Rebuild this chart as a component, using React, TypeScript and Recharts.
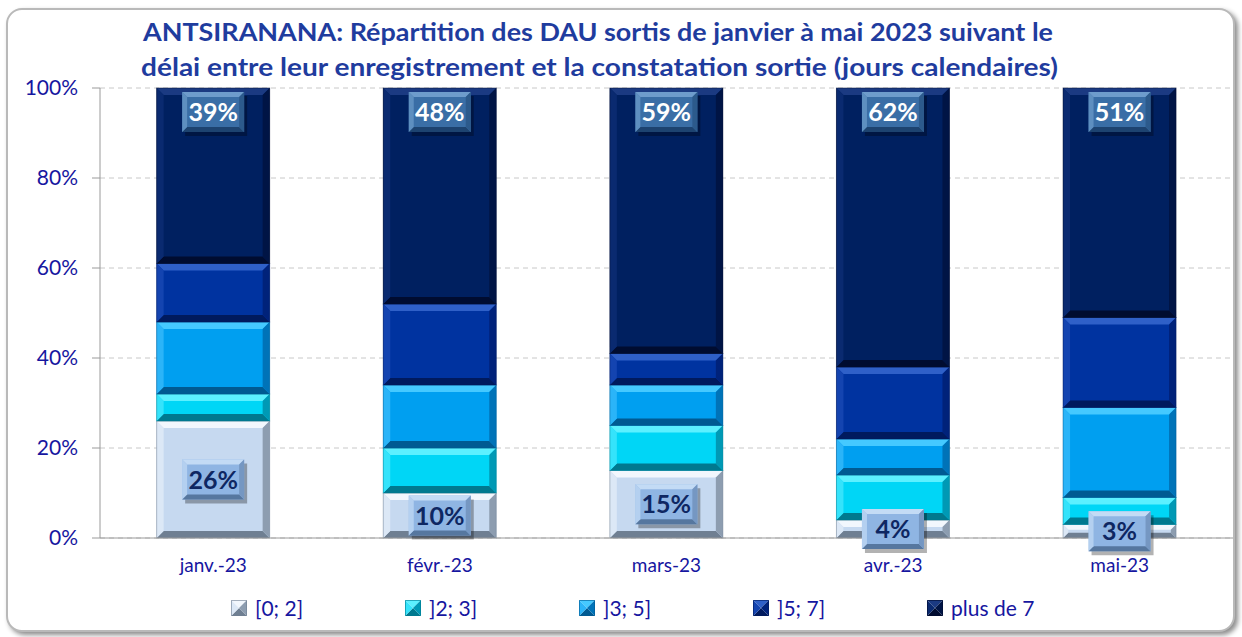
import { Bar, BarChart, CartesianGrid, LabelList, Legend, XAxis, YAxis } from "recharts";

const MONTHS = ["janv.-23", "févr.-23", "mars-23", "avr.-23", "mai-23"];
const SERIES = ["[0; 2]", "]2; 3]", "]3; 5]", "]5; 7]", "plus de 7"];
const S_0_2 = [26, 10, 15, 4, 3];
const S_2_3 = [6, 10, 10, 10, 6];
const S_3_5 = [16, 14, 9, 8, 20];
const S_5_7 = [13, 18, 7, 16, 20];
const S_7P = [39, 48, 59, 62, 51];
const Y_TICKS = [0, 20, 40, 60, 80, 100];
const TITLE_1 = "ANTSIRANANA: Répartition des DAU sortis de janvier à mai 2023 suivant le";
const TITLE_2 = "délai entre leur enregistrement et la constatation sortie (jours calendaires)";

// base / top bevel / bottom bevel / left / right
const PAL = [
  { base: "#c6d9f0", light: "#f2f7fd", dark: "#6f7f92", left: "#dce8f6", right: "#8d9db0" },
  { base: "#00d6f6", light: "#5cf0ff", dark: "#00798f", left: "#35e3fb", right: "#0099b5" },
  { base: "#009ff0", light: "#45c9ff", dark: "#005a92", left: "#2bb4f8", right: "#0073b8" },
  { base: "#0033a0", light: "#2f60c8", dark: "#001a5e", left: "#1444b0", right: "#00227a" },
  { base: "#002060", light: "#1b3a82", dark: "#000c30", left: "#0a2a70", right: "#001445" },
];

const data = MONTHS.map((m, i) => ({
  month: m,
  a: S_0_2[i],
  b: S_2_3[i],
  c: S_3_5[i],
  d: S_5_7[i],
  e: S_7P[i],
}));

const KEYS = ["a", "b", "c", "d", "e"];
const FONT = "Lato, 'Open Sans', sans-serif";
const AXIS_BLUE = "#1616a0";

function bevelShape(idx: number) {
  return (props: any) => {
    const { x, y, width: w, height: h } = props;
    if (!h || h <= 0) return <g />;
    const p = PAL[idx];
    const b = Math.min(7, h / 2.6, w / 4);
    return (
      <g>
        <rect x={x} y={y} width={w} height={h} fill={p.base} />
        <polygon points={`${x},${y} ${x + w},${y} ${x + w - b},${y + b} ${x + b},${y + b}`} fill={p.light} />
        <polygon points={`${x},${y + h} ${x + w},${y + h} ${x + w - b},${y + h - b} ${x + b},${y + h - b}`} fill={p.dark} />
        <polygon points={`${x},${y} ${x + b},${y + b} ${x + b},${y + h - b} ${x},${y + h}`} fill={p.left} />
        <polygon points={`${x + w},${y} ${x + w - b},${y + b} ${x + w - b},${y + h - b} ${x + w},${y + h}`} fill={p.right} />
        <rect x={x} y={y} width={w} height={h} fill="none" stroke={p.dark} strokeOpacity={0.5} strokeWidth={1} />
      </g>
    );
  };
}

function LabelBox({ cx, cy, value, dark }: { cx: number; cy: number; value: number; dark: boolean }) {
  const w = 62, h = 40, b = 5;
  const x = cx - w / 2, y = cy - h / 2;
  const base = dark ? "#3a6ea6" : "#8fb5e3";
  const light = dark ? "#6e9ccc" : "#c3dbf5";
  const shade = dark ? "#1d4370" : "#56779f";
  const side = dark ? "#2c5a8c" : "#7597c2";
  return (
    <g>
      <rect x={x + 3} y={y + 4} width={w} height={h} fill="#000" opacity={0.3} />
      <rect x={x} y={y} width={w} height={h} fill={base} />
      <polygon points={`${x},${y} ${x + w},${y} ${x + w - b},${y + b} ${x + b},${y + b}`} fill={light} />
      <polygon points={`${x},${y + h} ${x + w},${y + h} ${x + w - b},${y + h - b} ${x + b},${y + h - b}`} fill={shade} />
      <polygon points={`${x},${y} ${x + b},${y + b} ${x + b},${y + h - b} ${x},${y + h}`} fill={light} opacity={0.7} />
      <polygon points={`${x + w},${y} ${x + w - b},${y + b} ${x + w - b},${y + h - b} ${x + w},${y + h}`} fill={side} />
      <text
        x={cx}
        y={cy + 9}
        textAnchor="middle"
        fontFamily={FONT}
        fontWeight={700}
        fontSize={25}
        fill={dark ? "#ffffff" : "#0e2762"}
      >
        {value}%
      </text>
    </g>
  );
}

const bottomLabel = (props: any) => {
  const { x, y, width, height, value } = props;
  return <LabelBox cx={x + width / 2} cy={y + height / 2} value={value} dark={false} />;
};

const topLabel = (props: any) => {
  const { x, y, width, value } = props;
  return <LabelBox cx={x + width / 2} cy={y + 24} value={value} dark={true} />;
};

function LegendIcon({ idx }: { idx: number }) {
  const p = PAL[idx];
  const s = 16;
  const c = s / 2;
  return (
    <svg width={s} height={s} style={{ marginRight: 8 }}>
      <polygon points={`0,0 ${s},0 ${c},${c}`} fill={p.light} />
      <polygon points={`0,${s} ${s},${s} ${c},${c}`} fill={p.dark} />
      <polygon points={`0,0 ${c},${c} 0,${s}`} fill={p.left} />
      <polygon points={`${s},0 ${c},${c} ${s},${s}`} fill={p.right} />
      <rect x={0.5} y={0.5} width={s - 1} height={s - 1} fill="none" stroke={p.dark} strokeOpacity={0.6} />
    </svg>
  );
}

const renderLegend = () => (
  <div style={{ display: "flex", paddingLeft: 231, height: 24, alignItems: "center" }}>
    {SERIES.map((name, i) => (
      <div key={name} style={{ display: "flex", alignItems: "center", width: 174 }}>
        <LegendIcon idx={i} />
        <span style={{ fontFamily: FONT, fontSize: 21, color: AXIS_BLUE, lineHeight: "24px" }}>{name}</span>
      </div>
    ))}
  </div>
);

export default function App() {
  return (
    <div style={{ position: "absolute", left: 0, top: 0, width: 1242, height: 637, background: "#fff" }}>
      <div
        style={{
          position: "absolute",
          left: 6,
          top: 8,
          width: 1225,
          height: 620,
          border: "2px solid #b9b9b9",
          borderRadius: 16,
          boxShadow: "3px 3px 5px rgba(0,0,0,0.45)",
          background: "#fff",
        }}
      />
      <svg width={1242} height={90} style={{ position: "absolute", left: 0, top: 0 }}>
        <text x={143} y={41} textLength={910} lengthAdjust="spacingAndGlyphs" fontFamily={FONT} fontWeight={700} fontSize={25} fill="#1f3c9e">
          {TITLE_1}
        </text>
        <text x={141} y={76} textLength={917} lengthAdjust="spacingAndGlyphs" fontFamily={FONT} fontWeight={700} fontSize={25} fill="#1f3c9e">
          {TITLE_2}
        </text>
      </svg>
      <div style={{ position: "absolute", left: 0, top: 0 }}>
        <BarChart
          width={1242}
          height={637}
          data={data}
          margin={{ top: 88, right: 9, left: 0, bottom: 35 }}
          barCategoryGap="25%"
        >
          <CartesianGrid vertical={false} stroke="#c8c8c8" strokeDasharray="5 4" />
          <XAxis
            dataKey="month"
            axisLine={{ stroke: "#9a9a9a" }}
            tickLine={false}
            tickSize={0}
            tickMargin={21}
            height={40}
            tick={{ fontFamily: FONT, fontSize: 19, fill: AXIS_BLUE }}
          />
          <YAxis
            domain={[0, 100]}
            ticks={Y_TICKS}
            width={100}
            tickSize={8}
            tickMargin={14}
            axisLine={{ stroke: "#9a9a9a" }}
            tickLine={{ stroke: "#9a9a9a" }}
            tickFormatter={(v) => `${v}%`}
            tick={{ fontFamily: FONT, fontSize: 21, fill: AXIS_BLUE }}
          />
          <Legend
            content={renderLegend}
            wrapperStyle={{ left: 0, top: 596, width: 1242, height: 24 }}
          />
          {KEYS.map((k, i) => (
            <Bar
              key={k}
              dataKey={k}
              name={SERIES[i]}
              stackId="s"
              fill={PAL[i].base}
              shape={bevelShape(i)}
              isAnimationActive={false}
            >
              {i === 0 && <LabelList dataKey={k} content={bottomLabel} />}
              {i === 4 && <LabelList dataKey={k} content={topLabel} />}
            </Bar>
          ))}
        </BarChart>
      </div>
    </div>
  );
}
